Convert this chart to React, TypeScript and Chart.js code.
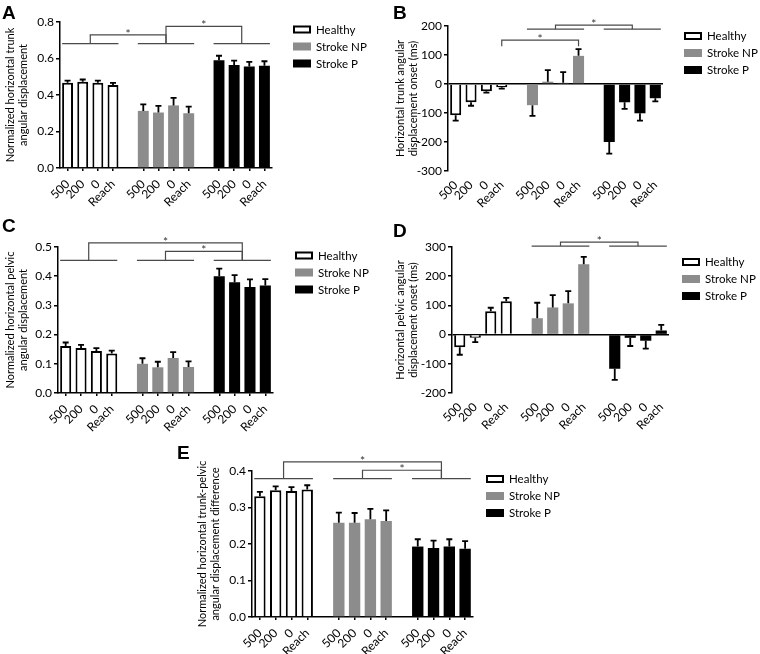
import React, { useEffect, useRef } from 'react';
import { Chart, registerables } from 'chart.js';

Chart.register(...registerables);

const FONT = 'Lato, "Open Sans", sans-serif';
const LETTER_FONT = 'bold 19px "Liberation Sans", Arial, sans-serif';

const conditions = ['500', '200', '0', 'Reach'];
const groups = ['Healthy', 'Stroke NP', 'Stroke P'];

// Panel A: normalized horizontal trunk angular displacement
const aTicks = [0, 0.2, 0.4, 0.6, 0.8];
const aHealthy = [0.467, 0.473, 0.467, 0.455];
const aHealthyErr = [0.012, 0.012, 0.012, 0.011];
const aNP = [0.313, 0.304, 0.343, 0.3];
const aNPErr = [0.036, 0.036, 0.041, 0.036];
const aP = [0.59, 0.564, 0.556, 0.56];
const aPErr = [0.025, 0.024, 0.026, 0.025];

// Panel B: horizontal trunk angular displacement onset (ms)
const bTicks = [-300, -200, -100, 0, 100, 200];
const bHealthy = [-108, -63, -25, -11];
const bHealthyErr = [18, 12, 5, 5];
const bNP = [-73, 8, 4, 97];
const bNPErr = [37, 40, 37, 23];
const bP = [-200, -63, -101, -49];
const bPErr = [40, 23, 25, 11];

// Panel C: normalized horizontal pelvic angular displacement
const cTicks = [0, 0.1, 0.2, 0.3, 0.4, 0.5];
const cHealthy = [0.161, 0.154, 0.144, 0.135];
const cHealthyErr = [0.012, 0.011, 0.01, 0.01];
const cNP = [0.1, 0.088, 0.12, 0.089];
const cNPErr = [0.019, 0.019, 0.02, 0.019];
const cP = [0.4, 0.379, 0.363, 0.368];
const cPErr = [0.026, 0.025, 0.026, 0.022];

// Panel D: horizontal pelvic angular displacement onset (ms)
const dTicks = [-200, -100, 0, 100, 200, 300];
const dHealthy = [-43, -11, 80, 114];
const dHealthyErr = [26, 15, 12, 12];
const dNP = [56, 93, 107, 241];
const dNPErr = [53, 42, 42, 25];
const dP = [-117, -11, -21, 14];
const dPErr = [38, 28, 27, 19];

// Panel E: normalized horizontal trunk-pelvic angular displacement difference
const eTicks = [0, 0.1, 0.2, 0.3, 0.4];
const eHealthy = [0.331, 0.347, 0.345, 0.349];
const eHealthyErr = [0.012, 0.011, 0.011, 0.012];
const eNP = [0.258, 0.258, 0.268, 0.263];
const eNPErr = [0.028, 0.027, 0.028, 0.029];
const eP = [0.193, 0.189, 0.193, 0.187];
const ePErr = [0.02, 0.02, 0.02, 0.021];

// significance brackets (value levels on each panel's y scale)
const aSig = { base: 0.682, lines: [0, 1, 2], links: [{ from: 0, to: 1, top: 0.73 }, { from: 1, to: 2, top: 0.776 }] };
const bSig = {
  base: 189,
  lines: [1, 2],
  links: [
    { from: 1, to: 2, top: 203 },
    { from: 0, fromBar: 3, fromBase: 130, to: 1, toBar: 3, toBase: 130, top: 151 },
  ],
};
const cSig = { base: 0.454, lines: [0, 1, 2], links: [{ from: 0, to: 2, top: 0.514 }, { from: 1, to: 2, top: 0.485 }] };
const dSig = { base: 303, lines: [1, 2], links: [{ from: 1, to: 2, top: 317 }] };
const eSig = { base: 0.379, lines: [0, 1, 2], links: [{ from: 0, to: 2, top: 0.425 }, { from: 1, to: 2, top: 0.402 }] };

const fmt1 = (v: number) => v.toFixed(1);
const fmt0 = (v: number) => String(v);

const panels = [
  {
    letter: 'A', box: { x: 0, y: 0, w: 380, h: 222 }, area: { l: 60, r: 272, t: 22, b: 168 },
    titlePad: 3.5, letterPos: { x: 2, top: 5 }, legendPos: { x: 293, y: 29.5 },
    title: ['Normalized horizontal trunk', 'angular displacement'],
    ticks: aTicks, fmt: fmt1, zeroLine: false, sig: aSig,
    series: [[aHealthy, aHealthyErr], [aNP, aNPErr], [aP, aPErr]],
  },
  {
    letter: 'B', box: { x: 380, y: 0, w: 380, h: 222 }, area: { l: 68, r: 283, t: 26, b: 171 },
    titlePad: 13.5, letterPos: { x: 13, top: 5 }, legendPos: { x: 304, y: 36 },
    title: ['Horizontal trunk angular', 'displacement onset (ms)'],
    ticks: bTicks, fmt: fmt0, zeroLine: true, sig: bSig,
    series: [[bHealthy, bHealthyErr], [bNP, bNPErr], [bP, bPErr]],
  },
  {
    letter: 'C', box: { x: 0, y: 210, w: 380, h: 232 }, area: { l: 58, r: 273, t: 37, b: 183 },
    titlePad: 3.5, letterPos: { x: 2, top: 8 }, legendPos: { x: 295, y: 45.5 },
    title: ['Normalized horizontal pelvic', 'angular displacement'],
    ticks: cTicks, fmt: fmt1, zeroLine: false, sig: cSig,
    series: [[cHealthy, cHealthyErr], [cNP, cNPErr], [cP, cPErr]],
  },
  {
    letter: 'D', box: { x: 380, y: 210, w: 380, h: 232 }, area: { l: 72, r: 289, t: 37, b: 183 },
    titlePad: 13.5, letterPos: { x: 13, top: 13 }, legendPos: { x: 302, y: 52 },
    title: ['Horizontal pelvic angular', 'displacement onset (ms)'],
    ticks: dTicks, fmt: fmt0, zeroLine: true, sig: dSig,
    series: [[dHealthy, dHealthyErr], [dNP, dNPErr], [dP, dPErr]],
  },
  {
    letter: 'E', box: { x: 170, y: 420, w: 410, h: 234 }, area: { l: 82, r: 303, t: 51, b: 197 },
    titlePad: 25.5, letterPos: { x: 7, top: 25 }, legendPos: { x: 316, y: 59 },
    title: ['Normalized horizontal trunk-pelvic', 'angular displacement difference'],
    ticks: eTicks, fmt: fmt1, zeroLine: false, sig: eSig,
    series: [[eHealthy, eHealthyErr], [eNP, eNPErr], [eP, ePErr]],
  },
];

const stride = conditions.length + 1;
const labels: string[] = [];
groups.forEach((_, g) => {
  if (g > 0) labels.push('');
  conditions.forEach((c) => labels.push(c));
});

const extrasPlugin = {
  id: 'extras',
  afterDatasetsDraw(chart: any, _args: any, o: any) {
    const ctx = chart.ctx;
    const ys = chart.scales.y;
    ctx.save();
    ctx.strokeStyle = '#000';
    ctx.lineWidth = 1.8;
    chart.data.datasets.forEach((ds: any, di: number) => {
      const meta = chart.getDatasetMeta(di);
      ds.data.forEach((v: number | null, i: number) => {
        if (v == null) return;
        const e = ds.errs[i];
        const bar = meta.data[i];
        const dir = v >= 0 ? 1 : -1;
        const y0 = ys.getPixelForValue(v);
        const y1 = ys.getPixelForValue(v + dir * e);
        ctx.beginPath();
        ctx.moveTo(bar.x, y0);
        ctx.lineTo(bar.x, y1);
        ctx.moveTo(bar.x - 3, y1);
        ctx.lineTo(bar.x + 3, y1);
        ctx.stroke();
      });
    });
    ctx.restore();
  },
  afterDraw(chart: any, _args: any, o: any) {
    const ctx = chart.ctx;
    const xs = chart.scales.x;
    const ys = chart.scales.y;
    const px = (g: number, i: number) => xs.getPixelForValue(g * stride + i);
    const barW = chart.getDatasetMeta(0).data[0].width;
    const sig = o.sig;
    ctx.save();
    ctx.strokeStyle = '#4a4a4a';
    ctx.lineWidth = 1.2;
    const yb = ys.getPixelForValue(sig.base);
    sig.lines.forEach((g: number) => {
      ctx.beginPath();
      ctx.moveTo(px(g, 0) - barW / 2, yb);
      ctx.lineTo(px(g, conditions.length - 1) + barW / 2, yb);
      ctx.stroke();
    });
    sig.links.forEach((l: any) => {
      const xa = l.fromBar != null ? px(l.from, l.fromBar) : (px(l.from, 1) + px(l.from, 2)) / 2;
      const xb = l.toBar != null ? px(l.to, l.toBar) : (px(l.to, 1) + px(l.to, 2)) / 2;
      const ya = ys.getPixelForValue(l.fromBase != null ? l.fromBase : sig.base);
      const yb2 = ys.getPixelForValue(l.toBase != null ? l.toBase : sig.base);
      const yt = ys.getPixelForValue(l.top);
      ctx.beginPath();
      ctx.moveTo(xa, ya);
      ctx.lineTo(xa, yt);
      ctx.lineTo(xb, yt);
      ctx.lineTo(xb, yb2);
      ctx.stroke();
      ctx.fillStyle = '#333';
      ctx.font = `12px ${FONT}`;
      ctx.textAlign = 'center';
      ctx.textBaseline = 'alphabetic';
      ctx.fillText('*', (xa + xb) / 2, yt + 3);
    });
    // legend
    chart.data.datasets.forEach((ds: any, i: number) => {
      const x = o.legend.x;
      const y = o.legend.y + i * 17;
      ctx.fillStyle = ds.backgroundColor;
      ctx.fillRect(x, y - 4, 18, 8);
      if (ds.borderWidth) {
        ctx.strokeStyle = ds.borderColor;
        ctx.lineWidth = 2;
        ctx.strokeRect(x + 1, y - 3, 16, 6);
      }
      ctx.fillStyle = '#000';
      ctx.font = `11.5px ${FONT}`;
      ctx.textAlign = 'left';
      ctx.textBaseline = 'middle';
      ctx.fillText(ds.label, x + 23, y + 0.5);
    });
    // panel letter
    ctx.fillStyle = '#000';
    ctx.font = LETTER_FONT;
    ctx.textAlign = 'left';
    ctx.textBaseline = 'alphabetic';
    ctx.fillText(o.letter.text, o.letter.x, o.letter.top + 13.6);
    ctx.restore();
  },
};

function buildConfig(p: any): any {
  const spread = (vals: number[], g: number) =>
    labels.map((_, i) => {
      const k = i - g * stride;
      return k >= 0 && k < vals.length ? vals[k] : null;
    });
  const styles = [
    { backgroundColor: '#ffffff', borderColor: '#000000', borderWidth: 2 },
    { backgroundColor: '#8c8c8c', borderColor: '#8c8c8c', borderWidth: 0 },
    { backgroundColor: '#000000', borderColor: '#000000', borderWidth: 0 },
  ];
  const datasets = groups.map((name, g) => ({
    label: name,
    data: spread(p.series[g][0], g),
    errs: spread(p.series[g][1], g),
    grouped: false,
    barPercentage: 0.72,
    categoryPercentage: 1,
    ...styles[g],
  }));
  const { w, h } = p.box;
  const { l, r, t, b } = p.area;
  return {
    type: 'bar',
    data: { labels, datasets },
    plugins: [extrasPlugin],
    options: {
      responsive: false,
      animation: false,
      events: [],
      layout: { padding: { top: t, right: w - r, bottom: 0, left: 0 } },
      plugins: {
        legend: { display: false },
        tooltip: { enabled: false },
        extras: {
          sig: p.sig,
          legend: p.legendPos,
          letter: { text: p.letter, x: p.letterPos.x, top: p.letterPos.top },
        },
      },
      scales: {
        x: {
          type: 'category',
          offset: true,
          grid: {
            display: !p.zeroLine,
            offset: false,
            drawOnChartArea: false,
            drawTicks: !p.zeroLine,
            tickLength: 3,
            lineWidth: 1.5,
            tickColor: (c: any) => (labels[c.index] ? '#000' : 'rgba(0,0,0,0)'),
          },
          border: { display: !p.zeroLine, color: '#000', width: 1.5 },
          ticks: {
            autoSkip: false,
            maxRotation: 45,
            minRotation: 45,
            padding: p.zeroLine ? 7 : 6,
            color: '#000',
            font: { family: FONT, size: 12 },
          },
          afterCalculateLabelRotation: (s: any) => {
            s.labelRotation = 45;
          },
          afterFit: (s: any) => {
            s.height = h - b;
          },
        },
        y: {
          min: p.ticks[0],
          max: p.ticks[p.ticks.length - 1],
          afterBuildTicks: (s: any) => {
            s.ticks = p.ticks.map((v: number) => ({ value: v }));
          },
          ticks: {
            padding: 2,
            color: '#000',
            font: { family: FONT, size: 12 },
            callback: (v: number) => p.fmt(v),
          },
          grid: {
            drawOnChartArea: p.zeroLine,
            drawTicks: true,
            tickLength: 4,
            lineWidth: 1.5,
            tickWidth: 1.5,
            tickColor: '#000',
            color: (c: any) => (c.tick && c.tick.value === 0 ? '#000' : 'rgba(0,0,0,0)'),
          },
          border: { display: true, color: '#000', width: 1.5 },
          title: {
            display: true,
            text: p.title,
            color: '#000',
            font: { family: FONT, size: 11, lineHeight: 1.2 },
            padding: { top: p.titlePad, bottom: 0 },
          },
          afterFit: (s: any) => {
            s.width = l;
          },
        },
      },
    },
  };
}

function Panel({ p }: { p: any }) {
  const ref = useRef<HTMLCanvasElement>(null);
  useEffect(() => {
    const chart = new Chart(ref.current as HTMLCanvasElement, buildConfig(p));
    return () => chart.destroy();
  }, [p]);
  return (
    <div style={{ position: 'absolute', left: p.box.x, top: p.box.y, width: p.box.w, height: p.box.h }}>
      <canvas ref={ref} width={p.box.w} height={p.box.h} style={{ display: 'block', width: p.box.w, height: p.box.h }} />
    </div>
  );
}

export default function App() {
  return (
    <div style={{ position: 'absolute', left: 0, top: 0, width: 760, height: 654, background: '#fff', overflow: 'hidden' }}>
      {panels.map((p) => (
        <Panel key={p.letter} p={p} />
      ))}
    </div>
  );
}
